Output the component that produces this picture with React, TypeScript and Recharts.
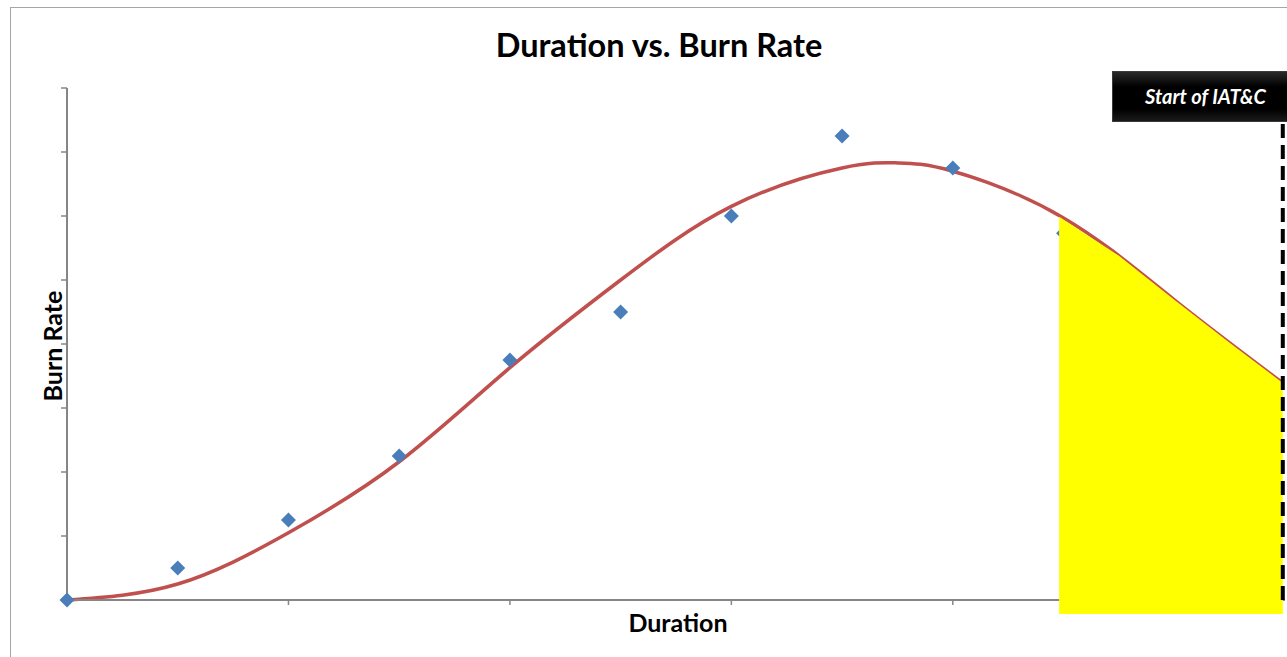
import React from 'react'
import {
  ComposedChart,
  Line,
  Scatter,
  Area,
  XAxis,
  YAxis,
  ReferenceLine,
} from 'recharts'

// observed burn rate points (duration, burn rate)
const durations = [0, 0.5, 1, 1.5, 2, 2.5, 3, 3.5, 4, 4.5]
const burnRates = [0, 0.5, 1.25, 2.25, 3.75, 4.5, 6, 7.25, 6.75, 5.73]

// trend line
const trendX = [0, 0.5, 1, 1.5, 2, 2.5, 3, 3.5, 3.75, 4, 4.5, 5, 5.49]
const trendY = [0, 0.25, 1.05, 2.16, 3.63, 5.0, 6.15, 6.75, 6.83, 6.7, 5.97, 4.69, 3.39]

// highlighted tail (yellow marker)
const highlightX = [4.48, 4.75, 5, 5.25, 5.49]
const highlightY = [5.99, 5.38, 4.69, 4.02, 3.39]

const xTicks = [0, 1, 2, 3, 4, 5]
const yTicks = [0, 1, 2, 3, 4, 5, 6, 7, 8]
const IAT_START = 5.49

const points = durations.map((x, i) => ({ x, y: burnRates[i] }))
const trend = trendX.map((x, i) => ({ x, y: trendY[i] }))
const highlight = highlightX.map((x, i) => ({ x, y: highlightY[i] }))

const AXIS = '#868686'
const FONT = 'Lato, "Open Sans", sans-serif'

const Diamond = (props: any) => {
  const { cx, cy } = props
  const r = 7.5
  return (
    <polygon
      points={`${cx},${cy - r} ${cx + r},${cy} ${cx},${cy + r} ${cx - r},${cy}`}
      fill="#4A7EBB"
    />
  )
}

const noTick = () => <g />

export default function App() {
  return (
    <div
      style={{
        position: 'absolute',
        left: 0,
        top: 0,
        width: 1287,
        height: 657,
        overflow: 'hidden',
        background: '#fff',
        fontFamily: FONT,
      }}
    >
      <div
        style={{
          position: 'absolute',
          left: 10,
          top: 7,
          width: 1300,
          height: 700,
          border: '1px solid #a6a6a6',
        }}
      />
      <div
        style={{
          position: 'absolute',
          left: 0,
          top: 25,
          width: 1318,
          textAlign: 'center',
          fontWeight: 700,
          fontSize: 32.5,
          lineHeight: '40px',
          color: '#000',
        }}
      >
        Duration vs. Burn Rate
      </div>
      <div
        style={{
          position: 'absolute',
          left: 0,
          top: 606,
          width: 1356,
          textAlign: 'center',
          fontWeight: 700,
          fontSize: 25,
          lineHeight: '32px',
          color: '#000',
        }}
      >
        Duration
      </div>
      <div
        style={{
          position: 'absolute',
          left: 52,
          top: 346,
          transform: 'translate(-50%, -50%) rotate(-90deg)',
          fontWeight: 700,
          fontSize: 25,
          lineHeight: '32px',
          whiteSpace: 'nowrap',
          color: '#000',
        }}
      >
        Burn Rate
      </div>

      <div style={{ position: 'absolute', left: 0, top: 0 }}>
        <ComposedChart
          width={1287}
          height={657}
          margin={{ top: 88, right: 2, bottom: 27, left: 7 }}
        >
          <XAxis
            type="number"
            dataKey="x"
            domain={[0, 5.5]}
            ticks={xTicks}
            height={30}
            tick={noTick}
            tickSize={5}
            axisLine={{ stroke: AXIS, strokeWidth: 2 }}
            tickLine={{ stroke: AXIS, strokeWidth: 1.5 }}
            allowDecimals
          />
          <YAxis
            type="number"
            domain={[0, 8]}
            ticks={yTicks}
            width={60}
            tick={noTick}
            tickSize={6}
            axisLine={{ stroke: AXIS, strokeWidth: 2 }}
            tickLine={{ stroke: AXIS, strokeWidth: 1.5 }}
          />
          <Line
            data={trend}
            dataKey="y"
            type="natural"
            stroke="#C0504D"
            strokeWidth={3.5}
            dot={false}
            isAnimationActive={false}
          />
          <Scatter
            data={points}
            dataKey="y"
            shape={Diamond}
            isAnimationActive={false}
          />
          <Area
            data={highlight}
            dataKey="y"
            type="linear"
            baseValue={-0.22}
            fill="#FFFF00"
            fillOpacity={1}
            stroke="none"
            isAnimationActive={false}
            zIndex={700}
          />
          <ReferenceLine
            x={IAT_START}
            stroke="#000"
            strokeWidth={4}
            strokeDasharray="14 7"
            ifOverflow="visible"
            zIndex={800}
          />
        </ComposedChart>
      </div>

      <div
        style={{
          position: 'absolute',
          left: 1112,
          top: 71,
          width: 190,
          height: 51,
          boxSizing: 'border-box',
          background: 'linear-gradient(#2a2a2a, #000 30%, #000 75%, #1a1a1a)',
          border: '1px solid #3a3a3a',
          color: '#fff',
          fontStyle: 'italic',
          fontWeight: 700,
          fontSize: 20,
          lineHeight: '49px',
          paddingLeft: 32,
          whiteSpace: 'nowrap',
        }}
      >
        Start of IAT&amp;C
      </div>
    </div>
  )
}
